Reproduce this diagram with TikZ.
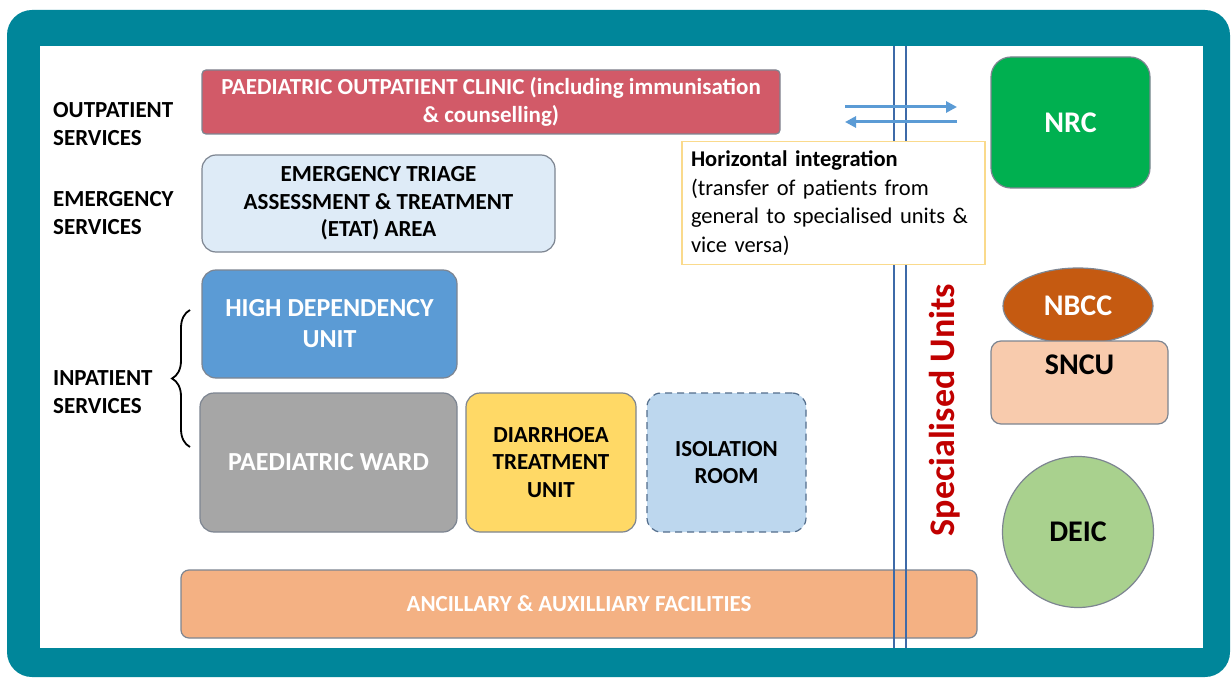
\documentclass[tikz,border=0pt]{standalone}
\usepackage{fontspec}
\setmainfont{Carlito}
\usetikzlibrary{shapes.geometric,decorations.pathreplacing,arrows.meta}
\definecolor{frameteal}{RGB}{0,134,154}
\definecolor{boxline}{RGB}{125,133,145}
\definecolor{clinicred}{RGB}{210,90,104}
\definecolor{etatblue}{RGB}{222,235,247}
\definecolor{hdublue}{RGB}{91,155,213}
\definecolor{wardgrey}{RGB}{166,166,166}
\definecolor{dtuyellow}{RGB}{255,217,102}
\definecolor{isoblue}{RGB}{189,215,238}
\definecolor{isoline}{RGB}{84,110,140}
\definecolor{ancorange}{RGB}{244,177,131}
\definecolor{nrcgreen}{RGB}{0,176,80}
\definecolor{nbccbrown}{RGB}{197,90,17}
\definecolor{sncupeach}{RGB}{248,203,173}
\definecolor{deicgreen}{RGB}{169,209,142}
\definecolor{specred}{RGB}{192,0,0}
\definecolor{wallblue}{RGB}{62,106,168}
\definecolor{arrowblue}{RGB}{91,155,213}
\definecolor{noteyellow}{RGB}{250,218,140}
\tikzset{
    unit/.style={draw=boxline, line width=1.2pt, rounded corners=14pt, align=center,
        inner sep=0pt, font=\bfseries\fontsize{23}{27.5}\selectfont},
    bigunit/.style={unit, font=\bfseries\fontsize{26}{31}\selectfont},
    spunit/.style={line width=1.2pt, draw=boxline, inner sep=0pt,
        font=\bfseries\fontsize{30}{34}\selectfont},
    sidelabel/.style={anchor=west, align=left, inner sep=0pt,
        font=\bfseries\fontsize{23}{28}\selectfont},
    wall/.style={draw=wallblue, line width=2.5pt},
    flow/.style={draw=arrowblue, line width=3pt, -{Triangle[length=11pt,width=11pt]}},
}
\begin{document}
\begin{tikzpicture}[x=1pt,y=-1pt]
\useasboundingbox (0,0) rectangle (1231,679);
\fill[white] (0,0) rectangle (1231,679);
\fill[frameteal, rounded corners=25pt] (7,10) rectangle (1230,677);
\fill[white] (40,46) rectangle (1203,648);

\node[sidelabel] (outlbl) at (53,124) {OUTPATIENT\\SERVICES};
\node[sidelabel] (emlbl) at (53,213) {EMERGENCY\\SERVICES};
\node[sidelabel] (inlbl) at (53,392) {INPATIENT\\SERVICES};
\draw[decorate, decoration={brace, amplitude=18pt}, line width=1.8pt] (190,447) -- (190,310);

\node[unit, rounded corners=4pt, fill=clinicred, text=white, minimum width=578pt, minimum height=64pt] (clinic) at (491,102) {PAEDIATRIC OUTPATIENT CLINIC (including immunisation\\\& counselling)};
\node[unit, fill=etatblue, minimum width=353pt, minimum height=97pt] (etat) at (378.5,203.5) {EMERGENCY TRIAGE\\ASSESSMENT \& TREATMENT\\(ETAT) AREA};
\node[bigunit, fill=hdublue, text=white, minimum width=255pt, minimum height=108pt] (hdu) at (329.5,324) {HIGH DEPENDENCY\\UNIT};
\node[bigunit, fill=wardgrey, text=white, minimum width=257pt, minimum height=139pt] (ward) at (328.5,462.5) {PAEDIATRIC WARD};
\node[unit, fill=dtuyellow, minimum width=170pt, minimum height=139pt] (dtu) at (551,462.5) {DIARRHOEA\\TREATMENT\\UNIT};
\node[unit, fill=isoblue, draw=isoline, dashed, dash pattern=on 7pt off 5pt, minimum width=159pt, minimum height=139pt] (iso) at (726.5,462.5) {ISOLATION\\ROOM};
\node[unit, rounded corners=8pt, fill=ancorange, text=white, minimum width=796pt, minimum height=68pt] (anc) at (579,604) {ANCILLARY \& AUXILLIARY FACILITIES};

\coordinate (walltop) at (894,46);
\coordinate (wallbot) at (894,648);
\draw[wall] (walltop) -- (wallbot);
\draw[wall] ([xshift=12pt]walltop) -- ([xshift=12pt]wallbot);

\coordinate (flowl) at (845,107);
\coordinate (flowr) at (957,107);
\draw[flow] (flowl) -- (flowr);
\draw[flow] ([yshift=-15pt]flowr) -- ([yshift=-15pt]flowl);

\node[draw=noteyellow, line width=1.5pt, fill=white, align=left, text width=285pt, inner sep=9pt, minimum height=123pt, font=\fontsize{22.5}{28.5}\selectfont] (note) at (833.5,203) {\textbf{Horizontal integration}\\(transfer of patients from\\general to specialised units \&\\vice versa)};

\node[rotate=90, text=specred, font=\bfseries\fontsize{36}{36}\selectfont] (spec) at (945,410) {Specialised Units};

\node[spunit, rectangle, rounded corners=20pt, fill=nrcgreen, text=white, minimum width=159pt, minimum height=131pt] (nrc) at (1070.5,122.5) {NRC};
\node[spunit, ellipse, fill=nbccbrown, text=white, minimum width=150pt, minimum height=76pt] (nbcc) at (1078,306) {NBCC};
\node[spunit, rectangle, rounded corners=10pt, fill=sncupeach, minimum width=177pt, minimum height=83pt,
    label={[anchor=north, yshift=-11pt, font=\bfseries\fontsize{30}{34}\selectfont]north:SNCU}] (sncu) at (1079.5,382.5) {};
\node[spunit, circle, fill=deicgreen, minimum size=151pt] (deic) at (1078,532) {DEIC};
\end{tikzpicture}
\end{document}
